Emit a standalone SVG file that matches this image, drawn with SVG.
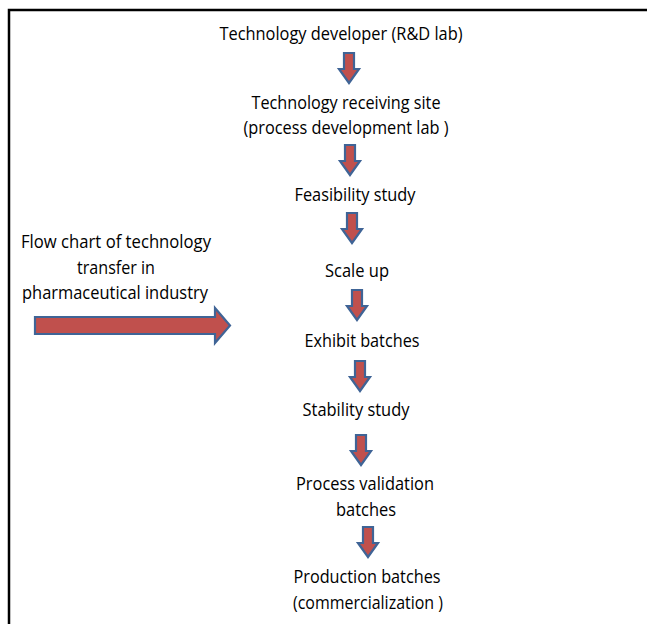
<svg xmlns="http://www.w3.org/2000/svg" width="647" height="624" viewBox="0 0 647 624">
<style>
text{font-family:"Open Sans","Liberation Sans",sans-serif;font-size:17.5px;fill:#000;text-anchor:middle}
.arr{fill:#c0504d;stroke:#3f6496;stroke-width:2.2;stroke-linejoin:miter}
</style>
<defs>
<path id="down" class="arr" d="M-5,0 H5 V16 H10 L0,30 L-10,16 H-5 Z"/>
</defs>
<rect width="647" height="624" fill="#fff"/>
<g id="frame" fill="none" stroke="#000" stroke-width="2.5">
<path d="M9,624 V10 H647"/>
</g>
<g id="connectors">
<use href="#down" x="349" y="53"/>
<use href="#down" x="350" y="145"/>
<use href="#down" x="352" y="213"/>
<use href="#down" x="357" y="290"/>
<use href="#down" x="360" y="361"/>
<use href="#down" x="361" y="435"/>
<use href="#down" x="368" y="527"/>
<path id="big-arrow" class="arr" d="M35,317 H215 V308 L230,325.5 L215,343 V334 H35 Z"/>
</g>
<g id="n1"><text x="341" y="40" textLength="243" lengthAdjust="spacingAndGlyphs">Technology developer (R&amp;D lab)</text></g>
<g id="n2"><text x="346" y="109" textLength="189" lengthAdjust="spacingAndGlyphs">Technology receiving site</text><text x="346" y="134" textLength="205" lengthAdjust="spacingAndGlyphs">(process development lab )</text></g>
<g id="n3"><text x="355" y="201" textLength="121" lengthAdjust="spacingAndGlyphs">Feasibility study</text></g>
<g id="n4"><text x="357" y="277" textLength="64" lengthAdjust="spacingAndGlyphs">Scale up</text></g>
<g id="n5"><text x="362" y="347" textLength="115" lengthAdjust="spacingAndGlyphs">Exhibit batches</text></g>
<g id="n6"><text x="356" y="416" textLength="107" lengthAdjust="spacingAndGlyphs">Stability study</text></g>
<g id="n7"><text x="365" y="490" textLength="138" lengthAdjust="spacingAndGlyphs">Process validation</text><text x="366" y="516" textLength="60" lengthAdjust="spacingAndGlyphs">batches</text></g>
<g id="n8"><text x="367" y="583" textLength="147" lengthAdjust="spacingAndGlyphs">Production batches</text><text x="368" y="609" textLength="150" lengthAdjust="spacingAndGlyphs">(commercialization )</text></g>
<g id="title"><text x="116" y="248" textLength="190" lengthAdjust="spacingAndGlyphs">Flow chart of technology</text><text x="116" y="274" textLength="78" lengthAdjust="spacingAndGlyphs">transfer in</text><text x="115" y="299" textLength="186" lengthAdjust="spacingAndGlyphs">pharmaceutical industry</text></g>
</svg>
